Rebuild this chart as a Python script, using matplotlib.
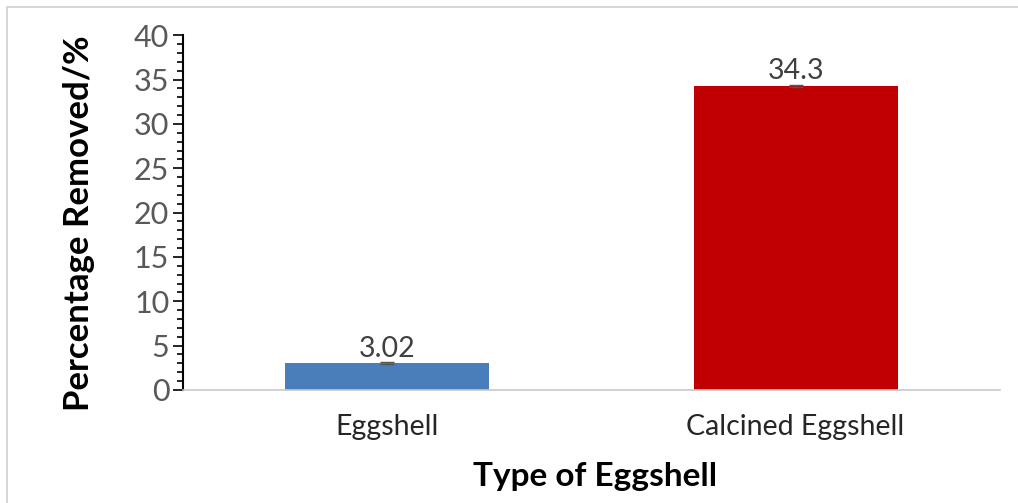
import matplotlib.pyplot as plt
from matplotlib.patches import Rectangle
from matplotlib.ticker import MultipleLocator

categories = ["Eggshell", "Calcined Eggshell"]
values = [3.02, 34.3]
errors = [0.08, 0.1]
labels = ["3.02", "34.3"]
colors = ["#4a7ebb", "#c00000"]

plt.rcParams['font.family'] = ['Lato', 'DejaVu Sans']

fig = plt.figure(figsize=(10.18, 5.03), dpi=100)
fig.patches.append(Rectangle((0.007, -0.1), 1.1, 1.086, transform=fig.transFigure,
                             fill=False, edgecolor="#d0d0d0", linewidth=1.2))
ax = fig.add_axes([0.18, 0.2247, 0.802, 0.7053])

x = range(len(categories))
ax.bar(x, values, width=0.5, color=colors, yerr=errors, capsize=5,
       error_kw=dict(ecolor="#555555", elinewidth=1, capthick=1))
for i, (v, t) in enumerate(zip(values, labels)):
    ax.text(i, v + 0.15, t, ha="center", va="bottom", fontsize=20.5, color="#404040")

ax.set_xlim(-0.5, 1.5)
ax.set_ylim(0, 40)
ax.set_xticks(list(x))
ax.set_xticklabels(categories, fontsize=20.5, color="#262626")
ax.yaxis.set_major_locator(MultipleLocator(5))
ax.yaxis.set_minor_locator(MultipleLocator(1))
ax.tick_params(axis="y", which="major", length=7, width=1.2, labelsize=22,
               labelcolor="#595959", pad=3)
ax.tick_params(axis="y", which="minor", length=4, width=1.2)
ax.tick_params(axis="x", length=0, pad=17)

for s in ["top", "right"]:
    ax.spines[s].set_visible(False)
ax.spines["left"].set_linewidth(1.5)
ax.spines["left"].set_color("black")
ax.spines["bottom"].set_color("#c8c8c8")
ax.spines["bottom"].set_linewidth(1.2)

ax.set_ylabel("Percentage Removed/%", fontsize=25, fontweight="bold")
ax.set_xlabel("Type of Eggshell", fontsize=24, fontweight="bold")
ax.yaxis.set_label_coords(-0.108, 0.469)
ax.xaxis.set_label_coords(0.504, -0.203)

fig.savefig("out.png", dpi=100)
